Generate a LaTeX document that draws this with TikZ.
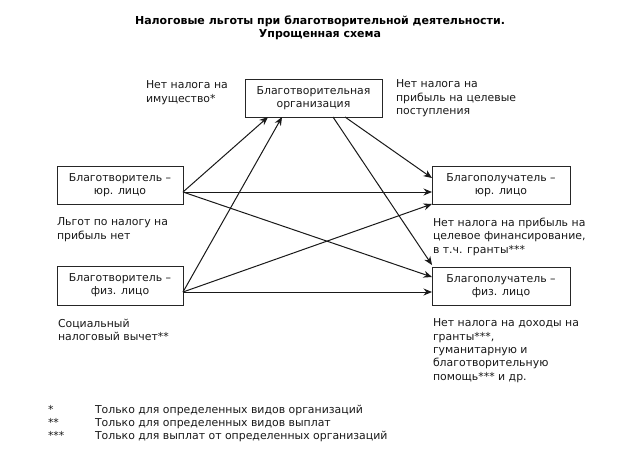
\documentclass[tikz,border=0pt]{standalone}
\usepackage{fontspec}
\setmainfont{DejaVu Sans}
\usetikzlibrary{arrows.meta,calc}
\begin{document}
\begin{tikzpicture}[x=1pt,y=-1pt,
  every node/.style={inner sep=0pt,outer sep=0pt},
  txt/.style={font=\fontsize{10.9}{13.3}\selectfont,align=left,anchor=north west,text=black!90},
  box/.style={draw=black!85,line width=1pt,font=\fontsize{10.9}{12.8}\selectfont,align=center,text=black!90},
  arr/.style={draw=black!90,line width=1pt,-{Stealth[length=8.5pt,width=7pt]}}]
\useasboundingbox[fill=white] (0,0) rectangle (623,467);
\node[font=\bfseries\fontsize{11}{12.5}\selectfont,align=center] (title) at (320,28)
  {Налоговые льготы при благотворительной деятельности.\\Упрощенная схема};
\node[box,minimum width=137,minimum height=38] (org) at (313.5,98) {Благотворительная\\организация};
\node[box,minimum width=126,minimum height=38] (dl) at (120,185) {Благотворитель –\\юр. лицо};
\node[box,minimum width=126,minimum height=39] (dp) at (120,285.5) {Благотворитель –\\физ. лицо};
\node[box,minimum width=138,minimum height=38] (rl) at (501,185) {Благополучатель –\\юр. лицо};
\node[box,minimum width=138,minimum height=38] (rp) at (501,286) {Благополучатель –\\физ. лицо};
\node[txt] (t1) at (146,81) {Нет налога на\\имущество*};
\node[txt] (t2) at (396,80) {Нет налога на\\прибыль на целевые\\поступления};
\node[txt] (t3) at (57,218) {Льгот по налогу на\\прибыль нет};
\node[txt] (t4) at (58,319) {Социальный\\налоговый вычет**};
\node[txt] (t5) at (433,218) {Нет налога на прибыль на\\целевое финансирование,\\в т.ч. гранты***};
\node[txt] (t6) at (433,319) {Нет налога на доходы на\\гранты***,\\гуманитарную и\\благотворительную\\помощь*** и др.};
\node[txt] (f1) at (48,405) {*\\**\\***};
\node[txt] (f2) at (95,405) {Только для определенных видов организаций\\Только для определенных видов выплат\\Только для выплат от определенных организаций};
% arrows
\coordinate (dlo) at ($(dl.east)+(0,7)$);
\coordinate (dpo) at ($(dp.east)+(0,6.5)$);
\draw[arr] (dlo) -- ($(org.south west)+(23,0)$);
\draw[arr] (dpo) -- ($(org.south west)+(37,0)$);
\draw[arr] (dlo) -- ($(rl.west)+(0,7)$);
\draw[arr] (dlo) -- ($(rp.west)+(0,-9)$);
\draw[arr] (dpo) -- (rl.south west);
\draw[arr] (dpo) -- ($(rp.west)+(0,6)$);
\draw[arr] ($(org.south west)+(100,0)$) -- ($(rl.west)+(0,-7)$);
\draw[arr] ($(org.south west)+(88,0)$) -- ($(rp.north west)+(0,-2)$);
\end{tikzpicture}
\end{document}
